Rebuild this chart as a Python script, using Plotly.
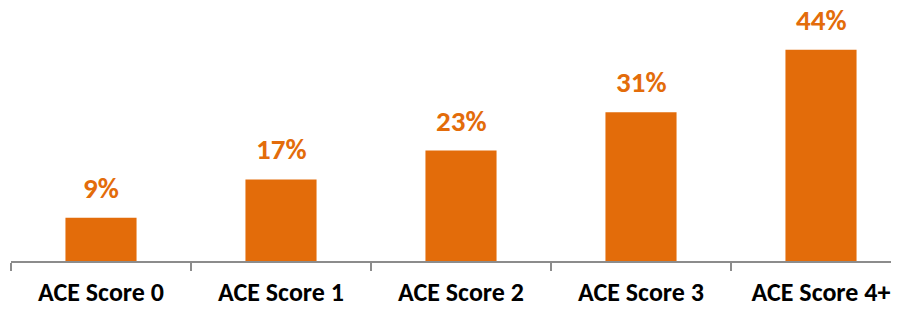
import plotly.graph_objects as go

categories = ["ACE Score 0", "ACE Score 1", "ACE Score 2", "ACE Score 3", "ACE Score 4+"]
values = [9, 17, 23, 31, 44]
labels = ["9%", "17%", "23%", "31%", "44%"]

ORANGE = "#E36C0A"
FONT = "Carlito, Lato, sans-serif"

fig = go.Figure(go.Bar(
    x=categories, y=values, width=0.395,
    marker=dict(color=ORANGE, line=dict(width=0)),
    hoverinfo="skip",
))

for c, v, t in zip(categories, values, labels):
    fig.add_annotation(x=c, y=v, text="<b>%s</b>" % t, showarrow=False,
                       yanchor="bottom", yshift=10,
                       font=dict(family=FONT, size=29, color=ORANGE))

# page body has an 8px default margin; size the figure to the visible area
fig.update_layout(
    width=891, height=301,
    margin=dict(l=3, r=0, t=0, b=48),
    plot_bgcolor="white", paper_bgcolor="white",
    showlegend=False,
    xaxis=dict(
        type="category",
        range=[-0.5, -0.5 + 888 / 180],
        showline=True, linecolor="#8C8C8C", linewidth=1.5,
        ticks="outside", tickson="boundaries", ticklen=8,
        tickcolor="#8C8C8C", tickwidth=1.5,
        tickfont=dict(family=FONT, size=26, color="black", weight="bold"),
        ticklabelstandoff=7,
        showgrid=False, zeroline=False,
    ),
    yaxis=dict(range=[0, 253 / 4.8], visible=False, showgrid=False, zeroline=False),
)

fig.write_html("out.html")
